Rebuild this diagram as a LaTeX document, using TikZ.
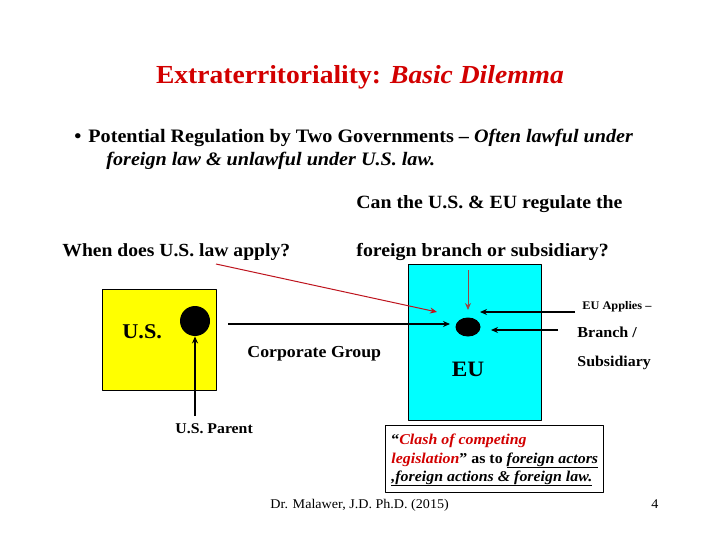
\documentclass[tikz,border=0pt]{standalone}
\usepackage{fontspec}
\setmainfont{Liberation Serif}
\usetikzlibrary{arrows.meta,shapes.geometric}
\definecolor{titlered}{RGB}{210,0,0}
\definecolor{arrowred}{RGB}{190,20,30}
\definecolor{dullred}{RGB}{150,70,70}
\definecolor{usyellow}{RGB}{255,255,0}
\definecolor{eucyan}{RGB}{0,255,255}
\begin{document}
\begin{tikzpicture}[x=1pt,y=-1pt,line join=round,>={Stealth[length=7pt,width=6pt]},thick]
				\tikzset{every node/.style={inner sep=0pt,font=\bfseries},
					txt/.style={anchor=base west,xscale=1.06},
					ctxt/.style={anchor=base,xscale=1.06},
					blackarrow/.style={->,line width=1.6pt},
					redarrow/.style={->,line width=1pt,arrowred}}
				\useasboundingbox[fill=white] (0,0) rectangle (720,540);
				% title and bullet
				\node[ctxt,text=titlered,font=\fontsize{26}{30}\bfseries] (title) at (360,84) {Extraterritoriality: \textit{Basic Dilemma}};
				\node[txt,font=\fontsize{19}{22}\bfseries] (dot) at (74,143) {\textbullet};
				\node[txt,font=\fontsize{19}{22}\bfseries] (lineA) at (88,143) {Potential Regulation by Two Governments -- \textit{Often lawful under}};
				\node[txt,font=\fontsize{19}{22}\bfseries] (lineB) at (106,166) {\textit{foreign law \& unlawful under U.S. law.}};
				% questions
				\node[txt,font=\fontsize{18.7}{22}\bfseries] (qEUa) at (356,209) {Can the U.S. \& EU regulate the};
				\node[txt,font=\fontsize{18.7}{22}\bfseries] (qEUb) at (356,256) {foreign branch or subsidiary?};
				\node[txt,font=\fontsize{18.5}{22}\bfseries] (qUS) at (62,256) {When does U.S. law apply?};
				% countries
				\fill[usyellow] (102,289) rectangle (216,390);
				\draw[line width=0.6pt] (102,289) rectangle (216,390);
				\fill[eucyan] (408,264) rectangle (541,420);
				\draw[line width=0.6pt] (408,264) rectangle (541,420);
				\node[circle,fill=black,minimum size=30pt] (usdot) at (195,321) {};
				\node[ellipse,fill=black,minimum width=25pt,minimum height=19pt] (eudot) at (468,327) {};
				\node[txt,font=\fontsize{21}{25}\bfseries] (uslbl) at (122,338) {U.S.};
				\node[ctxt,font=\fontsize{22}{26}\bfseries] (eulbl) at (468,376) {EU};
				\node[txt,font=\fontsize{16.8}{20}\bfseries] (corp) at (247,357) {Corporate Group};
				\node[txt,font=\fontsize{14.9}{18}\bfseries] (parent) at (175,433) {U.S. Parent};
				\node[txt,font=\fontsize{11.6}{14}\bfseries] (applies) at (582,309) {EU Applies --};
				\node[txt,font=\fontsize{15.2}{18}\bfseries] (branch) at (577,337) {Branch /};
				\node[txt,font=\fontsize{15}{18}\bfseries] (subs) at (577,366) {Subsidiary};
				% arrows
				\coordinate (parentTop) at (195,416);
				\coordinate (corpStart) at (228,324);
				\coordinate (corpEnd) at (450,324);
				\coordinate (redStart) at (216,264);
				\coordinate (redEnd) at (437,312);
				\coordinate (topStart) at (468,270);
				\coordinate (topEnd) at (468,310);
				\coordinate (appStart) at (575,312);
				\coordinate (appEnd) at (480,312);
				\coordinate (brStart) at (558,330);
				\coordinate (brEnd) at (491,330);
				\draw[blackarrow] (parentTop)--(usdot);
				\draw[blackarrow] (corpStart)--(corpEnd);
				\draw[redarrow] (redStart)--(redEnd);
				\draw[->,line width=1pt,dullred] (topStart)--(topEnd);
				\draw[blackarrow] (appStart)--(appEnd);
				\draw[blackarrow] (brStart)--(brEnd);
				% clash box
				\draw[line width=0.6pt] (385,425) rectangle (603,492);
				\node[txt,font=\fontsize{15}{18}\bfseries] (clashA) at (391,444) {``\textcolor{titlered}{\textit{Clash of competing}}};
				\node[txt,font=\fontsize{15}{18}\bfseries] (clashB) at (391,463) {\textcolor{titlered}{\textit{legislation}}'' as to \underline{\textit{foreign actors}}};
				\node[txt,font=\fontsize{15}{18}\bfseries] (clashC) at (391,481) {\underline{\textit{,foreign actions \& foreign law.}}};
				% footer
				\node[txt,font=\fontsize{13.3}{16}\selectfont] (foot) at (270,508) {Dr. Malawer, J.D. Ph.D. (2015)};
				\node[txt,font=\fontsize{13.3}{16}\selectfont] (page) at (651,508) {4};
			\end{tikzpicture}
\end{document}
